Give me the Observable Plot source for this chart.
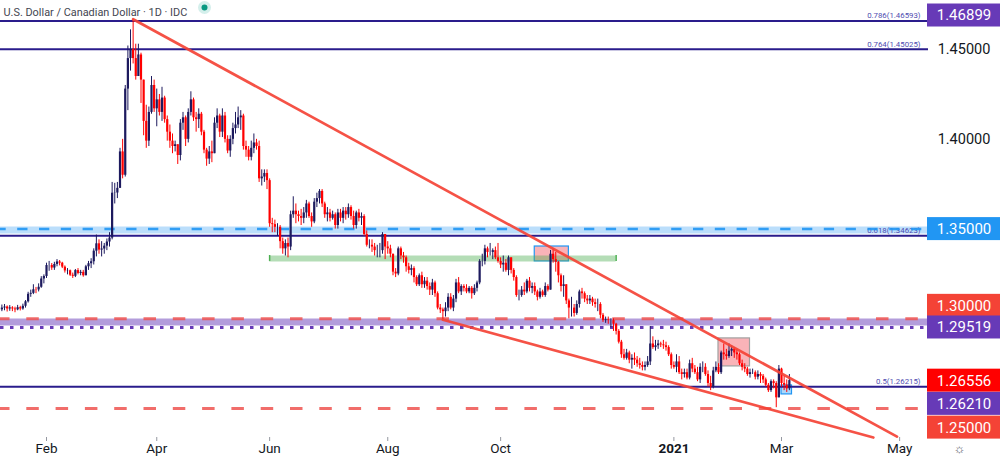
<!DOCTYPE html>
<html><head><meta charset="utf-8">
<script src="https://cdn.jsdelivr.net/npm/d3@7"></script>
<script src="https://cdn.jsdelivr.net/npm/@observablehq/plot@0.6"></script>
<style>body{margin:0;background:#fff}#chart{width:1000px;height:466px}</style>
</head><body><div id="chart"></div>
<script>
// ---------- data ----------
const titleText = "U.S. Dollar / Canadian Dollar · 1D · IDC";
const startDate = "2020-01-09";      // first daily bar (weekdays only)
const firstOpen = 1.3050;
const closePrice = [
1.3060,1.3066,1.3055,1.3061,1.3055,1.3050,1.3062,1.3055,1.3070,1.3095,1.3137,1.3142,1.3162,1.3161,1.3176,1.3222,1.3236,
1.3297,1.3297,1.3283,1.3303,1.3317,1.3310,1.3288,1.3267,1.3268,1.3243,1.3237,1.3269,1.3253,1.3259,1.3240,1.3290,1.3307,1.3318,1.3377,1.3418,
1.3383,1.3389,1.3405,1.3428,1.3450,1.3700,1.3701,1.3727,1.3930,1.3800,1.4280,1.4450,1.4500,1.4450,1.4350,1.4470,1.4330,1.4100,1.3990,1.4150,1.4300,1.4170,
1.4220,1.4150,1.4230,1.4110,1.4040,1.3990,1.3960,1.3970,1.3910,1.4090,1.4120,1.4000,1.4150,1.4220,1.4120,1.4110,1.4140,1.4040,1.3940,1.3890,1.3930,1.3920,
1.4090,1.4130,1.4040,1.4130,1.4000,1.3935,1.4000,1.4060,1.4080,1.4120,1.4130,1.3960,1.3940,1.3900,1.3950,1.3980,1.3960,1.3780,1.3790,1.3810,1.3770,
1.3530,1.3525,1.3510,1.3510,1.3430,1.3390,1.3420,1.3400,1.3580,1.3600,1.3580,1.3570,1.3560,1.3590,1.3640,1.3570,1.3540,1.3650,1.3670,1.3710,1.3640,1.3580,
1.3590,1.3560,1.3580,1.3520,1.3590,1.3560,1.3600,1.3580,1.3620,1.3570,1.3520,1.3590,1.3560,1.3570,1.3470,1.3410,1.3410,1.3400,1.3380,1.3380,1.3380,1.3470,1.3400,
1.3390,1.3360,1.3260,1.3250,1.3390,1.3350,1.3340,1.3290,1.3270,1.3280,1.3230,1.3190,1.3240,1.3190,1.3210,1.3180,1.3160,1.3200,1.3140,1.3060,1.3050,
1.3040,1.3060,1.3120,1.3060,1.3110,1.3200,1.3150,1.3180,1.3170,1.3150,1.3170,1.3140,1.3170,1.3200,1.3320,1.3320,1.3390,1.3370,1.3370,1.3380,1.3340,1.3320,
1.3300,1.3310,1.3270,1.3340,1.3270,1.3230,1.3130,1.3130,1.3160,1.3150,1.3210,1.3170,1.3180,1.3150,1.3120,1.3150,1.3130,1.3180,1.3160,1.3360,1.3330,1.3315,
1.3240,1.3180,1.3190,1.3100,1.3060,1.3060,1.3030,1.3080,1.3150,1.3140,1.3110,1.3100,1.3110,1.3090,1.3080,1.3080,1.3020,1.2990,1.2995,1.2990,1.2990,
1.2970,1.2930,1.2870,1.2800,1.2780,1.2810,1.2770,1.2780,1.2770,1.2750,1.2740,1.2730,1.2740,1.2760,1.2860,1.2840,1.2850,1.2860,1.2855,1.2850,1.2840,1.2800,1.2740,
1.2730,1.2760,1.2700,1.2690,1.2700,1.2670,1.2750,1.2720,1.2700,1.2660,1.2730,1.2730,1.2690,1.2640,1.2620,1.2710,1.2730,1.2700,1.2810,1.2800,1.2790,
1.2820,1.2830,1.2810,1.2800,1.2750,1.2730,1.2720,1.2690,1.2700,1.2700,1.2675,1.2690,1.2680,1.2660,1.2630,1.2600,1.2650,1.2640,1.2560,1.2720,
1.2640,1.2630,1.2610,1.2656];
const highPrice = [
1.3077,1.3080,1.3072,1.3074,1.3068,1.3065,1.3075,1.3070,1.3082,1.3102,1.3148,1.3160,1.3190,1.3175,1.3195,1.3235,1.3245,
1.3310,1.3320,1.3308,1.3315,1.3330,1.3325,1.3315,1.3295,1.3280,1.3272,1.3255,1.3275,1.3280,1.3270,1.3270,1.3298,1.3320,1.3335,1.3390,1.3467,
1.3440,1.3430,1.3420,1.3445,1.3480,1.3760,1.3755,1.3760,1.3950,1.4000,1.4300,1.4520,1.4610,1.4667,1.4530,1.4530,1.4480,1.4260,1.4190,1.4180,1.4350,1.4330,
1.4280,1.4250,1.4290,1.4240,1.4130,1.4080,1.4030,1.3990,1.3960,1.4110,1.4150,1.4130,1.4170,1.4265,1.4230,1.4150,1.4170,1.4150,1.4050,1.3950,1.3960,1.3990,
1.4120,1.4170,1.4140,1.4170,1.4150,1.4020,1.4020,1.4090,1.4150,1.4180,1.4160,1.4140,1.3990,1.3960,1.3990,1.4030,1.4000,1.3990,1.3830,1.3830,1.3830,
1.3780,1.3560,1.3550,1.3530,1.3520,1.3450,1.3440,1.3450,1.3600,1.3680,1.3640,1.3600,1.3610,1.3620,1.3660,1.3650,1.3590,1.3670,1.3700,1.3720,1.3720,1.3650,
1.3620,1.3610,1.3600,1.3590,1.3610,1.3610,1.3620,1.3620,1.3640,1.3630,1.3600,1.3600,1.3610,1.3590,1.3580,1.3490,1.3440,1.3440,1.3420,1.3410,1.3420,1.3480,1.3460,
1.3430,1.3410,1.3360,1.3280,1.3400,1.3400,1.3370,1.3350,1.3310,1.3300,1.3290,1.3240,1.3250,1.3260,1.3230,1.3230,1.3200,1.3220,1.3210,1.3150,1.3080,
1.3060,1.3090,1.3140,1.3140,1.3130,1.3220,1.3230,1.3190,1.3190,1.3190,1.3180,1.3180,1.3190,1.3210,1.3330,1.3360,1.3410,1.3400,1.3420,1.3390,1.3400,1.3420,
1.3340,1.3350,1.3330,1.3350,1.3340,1.3280,1.3240,1.3160,1.3180,1.3200,1.3220,1.3230,1.3200,1.3200,1.3160,1.3170,1.3160,1.3200,1.3190,1.3381,1.3390,1.3370,
1.3320,1.3250,1.3240,1.3190,1.3110,1.3120,1.3080,1.3100,1.3160,1.3170,1.3150,1.3130,1.3130,1.3120,1.3110,1.3110,1.3090,1.3030,1.3010,1.3010,1.3000,
1.3000,1.2975,1.2940,1.2880,1.2830,1.2830,1.2820,1.2800,1.2810,1.2790,1.2780,1.2760,1.2760,1.2790,1.2957,1.2900,1.2880,1.2880,1.2870,1.2880,1.2870,1.2850,1.2810,
1.2760,1.2800,1.2790,1.2720,1.2720,1.2720,1.2770,1.2780,1.2740,1.2730,1.2750,1.2760,1.2750,1.2710,1.2680,1.2730,1.2760,1.2750,1.2820,1.2860,1.2830,
1.2860,1.2850,1.2840,1.2830,1.2810,1.2770,1.2750,1.2730,1.2720,1.2720,1.2710,1.2710,1.2700,1.2690,1.2670,1.2640,1.2660,1.2660,1.2650,1.2740,
1.2725,1.2680,1.2660,1.2690];
const lowPrice = [
1.3040,1.3045,1.3038,1.3042,1.3040,1.3034,1.3045,1.3044,1.3048,1.3060,1.3088,1.3120,1.3135,1.3140,1.3150,1.3170,1.3195,
1.3225,1.3265,1.3270,1.3270,1.3290,1.3295,1.3280,1.3255,1.3245,1.3236,1.3225,1.3230,1.3245,1.3240,1.3232,1.3240,1.3270,1.3280,1.3300,1.3345,
1.3360,1.3345,1.3360,1.3380,1.3400,1.3440,1.3640,1.3670,1.3730,1.3780,1.3790,1.4160,1.4380,1.4420,1.4330,1.4360,1.4200,1.4020,1.3950,1.3960,1.4140,1.4150,
1.4070,1.4130,1.4100,1.4090,1.3990,1.3950,1.3920,1.3930,1.3860,1.3880,1.4050,1.3960,1.3980,1.4130,1.4100,1.4040,1.4060,1.4020,1.3920,1.3850,1.3860,1.3870,
1.3920,1.4060,1.4010,1.4010,1.3980,1.3920,1.3900,1.3970,1.4030,1.4060,1.4050,1.3940,1.3900,1.3880,1.3880,1.3920,1.3940,1.3760,1.3740,1.3760,1.3720,
1.3510,1.3480,1.3480,1.3460,1.3390,1.3360,1.3350,1.3340,1.3380,1.3560,1.3530,1.3540,1.3520,1.3530,1.3560,1.3560,1.3510,1.3530,1.3620,1.3640,1.3620,1.3560,
1.3540,1.3540,1.3550,1.3500,1.3500,1.3540,1.3530,1.3550,1.3560,1.3550,1.3500,1.3500,1.3540,1.3520,1.3460,1.3400,1.3390,1.3370,1.3350,1.3340,1.3340,1.3360,1.3330,
1.3360,1.3340,1.3240,1.3230,1.3240,1.3330,1.3310,1.3260,1.3250,1.3240,1.3200,1.3180,1.3180,1.3170,1.3170,1.3160,1.3130,1.3130,1.3120,1.3050,1.3030,
1.2994,1.3010,1.3040,1.3050,1.3040,1.3090,1.3140,1.3130,1.3150,1.3140,1.3140,1.3110,1.3130,1.3150,1.3190,1.3290,1.3300,1.3340,1.3350,1.3330,1.3330,1.3310,
1.3280,1.3260,1.3260,1.3240,1.3250,1.3210,1.3120,1.3100,1.3120,1.3130,1.3140,1.3150,1.3140,1.3130,1.3100,1.3110,1.3120,1.3120,1.3150,1.3165,1.3310,1.3260,
1.3200,1.3150,1.3120,1.3080,1.3000,1.3010,1.3010,1.3020,1.3060,1.3110,1.3090,1.3080,1.3080,1.3070,1.3060,1.3040,1.3000,1.2980,1.2975,1.2970,1.2950,
1.2930,1.2910,1.2860,1.2780,1.2770,1.2770,1.2750,1.2720,1.2740,1.2730,1.2720,1.2710,1.2710,1.2730,1.2740,1.2830,1.2820,1.2830,1.2840,1.2830,1.2820,1.2790,1.2720,
1.2720,1.2700,1.2690,1.2660,1.2670,1.2660,1.2660,1.2700,1.2690,1.2650,1.2640,1.2700,1.2680,1.2620,1.2600,1.2610,1.2700,1.2690,1.2690,1.2770,1.2770,
1.2780,1.2790,1.2780,1.2770,1.2740,1.2710,1.2700,1.2680,1.2670,1.2690,1.2660,1.2660,1.2640,1.2640,1.2620,1.2590,1.2590,1.2610,1.2505,1.2560,
1.2620,1.2600,1.2590,1.2600];

// time-axis labels (first trading day of the month)
const monthLabels = ["Feb","Apr","Jun","Aug","Oct","2021","Mar","May"];
const monthDates  = ["2020-02-03","2020-04-01","2020-06-01","2020-08-03","2020-10-01","2021-01-01","2021-03-01","2021-05-03"];
const boldLabels  = ["2021"];

// Fibonacci retracement levels
const fibRatio = [0.786, 0.764, 0.618, 0.5];
const fibValue = [1.46593, 1.45025, 1.34623, 1.26215];

// horizontal price levels
const blueLevel = 1.35, redLevels = [1.30, 1.25], purpleLevel = 1.29519;
const blueZone = [1.3476, 1.3515], purpleZone = [1.2963, 1.3002];
const greenZone = {from: "2020-06-01", to: "2020-12-02", lo: 1.3320, hi: 1.3353};

// trend lines [date, price]
const upperTrend = [["2020-03-19", 1.4669], ["2021-04-30", 1.2344]];
const lowerTrend = [["2020-09-01", 1.2995], ["2021-04-19", 1.2339]];

// highlight boxes
const boxes = [
  {from: "2020-10-20", to: "2020-11-06", lo: 1.3320, hi: 1.3403, kind: "redBlue"},
  {from: "2021-01-26", to: "2021-02-11", lo: 1.2735, hi: 1.2891, kind: "redGrey"},
  {from: "2021-03-01", to: "2021-03-05", lo: 1.2579, hi: 1.2629, kind: "blue"}
];

// right price-scale labels
const axisTicks = [1.45, 1.40];
const tagValues = [1.46899, 1.35, 1.30, 1.29519, 1.26556, 1.2621, 1.25];
const tagColors = ["#673ab7", "#2196f3", "#f44336", "#673ab7", "#ff0000", "#673ab7", "#f44336"];
const tagShift  = [0, 0, -13, 0, 0, 17, 19]; // label collision offsets (px)

// ---------- build ----------
const parse = d3.utcParse("%Y-%m-%d");
const start = parse(startDate);
const isWeekday = d => d.getUTCDay() !== 0 && d.getUTCDay() !== 6;
const idxOf = s => d3.utcDays(start, parse(s)).filter(isWeekday).length;

const candles = closePrice.map((c, i) => {
  const o = i ? closePrice[i - 1] : firstOpen;
  return {i, open: o, close: c, high: Math.max(highPrice[i], o, c), low: Math.min(lowPrice[i], o, c)};
});
const UP = "#1d1a5e", DOWN = "#ff0000";
const col = d => d.close >= d.open ? UP : DOWN;

const ticks = monthLabels.map((label, k) => ({label, i: idxOf(monthDates[k]), bold: boldLabels.includes(label)}));
const fibs = fibRatio.map((r, k) => ({ratio: r, value: fibValue[k]}));
const trendU = upperTrend.map(([d, p]) => ({i: idxOf(d), p}));
const trendL = lowerTrend.map(([d, p]) => ({i: idxOf(d), p}));
const boxData = boxes.map(b => ({...b, x1: idxOf(b.from), x2: idxOf(b.to)}));
const boxFill = {redBlue: "#f23645", redGrey: "#f23645", blue: "#2196f3"};
const boxStroke = {redBlue: "#2196f3", redGrey: "#a0a0a0", blue: "#2196f3"};
const FONT = "Roboto, 'Liberation Sans', sans-serif";

const chart = Plot.plot({
  width: 1000, height: 466,
  marginLeft: 0, marginRight: 72, marginTop: 0, marginBottom: 29,
  x: {type: "linear", domain: [-0.524, 353.0], axis: null},
  y: {type: "linear", domain: [1.2339, 1.47735], axis: null},
  color: {type: "identity"},
  style: {fontFamily: FONT, background: "#ffffff", overflow: "visible"},
  marks: [
    // zones
    Plot.ruleY([d3.mean(blueZone)], {y: d => d, stroke: "#bbdefb", strokeWidth: 7}),
    Plot.ruleY([d3.mean(purpleZone)], {y: d => d, stroke: "#b39ddb", strokeWidth: 7}),
    Plot.rect(boxData, {x1: "x1", x2: "x2", y1: "lo", y2: "hi",
      fill: d => boxFill[d.kind], fillOpacity: 0.38, stroke: d => boxStroke[d.kind], strokeWidth: 1.2}),
    Plot.ruleY([greenZone], {y: d => (d.lo + d.hi) / 2, x1: d => idxOf(d.from), x2: d => idxOf(d.to),
      stroke: "#4caf50", strokeOpacity: 0.42, strokeWidth: 6}),
    Plot.ruleX([greenZone.from, greenZone.to], {x: d => idxOf(d), y1: greenZone.lo, y2: greenZone.hi, stroke: "#4caf50", strokeWidth: 1.5}),
    // fib lines
    Plot.ruleY(fibs, {y: "value", stroke: "#2a1c8c", strokeWidth: 2}),
    Plot.text(fibs, {y: "value", text: d => `${d.ratio}(${d.value.toFixed(5)})`, frameAnchor: "right",
      textAnchor: "end", dx: -8, dy: -5, fontSize: 7.8, fill: "#4f4cb0"}),
    // dashed levels
    Plot.ruleY([blueLevel], {stroke: "#2196f3", strokeOpacity: 0.9, strokeWidth: 2.5, strokeDasharray: "10.3,11.5", strokeDashoffset: 4.6}),
    Plot.ruleY(redLevels, {stroke: "#ef5350", strokeOpacity: 0.85, strokeWidth: 3, strokeDasharray: "12.5,16.8", strokeDashoffset: 3}),
    Plot.ruleY([purpleLevel], {stroke: "#673ab7", strokeWidth: 3, strokeDasharray: "3.5,6.5", strokeDashoffset: 0}),
    // candles
    Plot.ruleX(candles, {x: "i", y1: "low", y2: "high", stroke: col, strokeWidth: 1}),
    Plot.ruleX(candles, {x: "i", y1: "open", y2: "close", stroke: col, strokeWidth: 2.2}),
    // trend lines
    Plot.line(trendU, {x: "i", y: "p", stroke: "#f44336", strokeWidth: 2.7, strokeOpacity: 0.92}),
    Plot.line(trendL, {x: "i", y: "p", stroke: "#f44336", strokeWidth: 2.7, strokeOpacity: 0.92}),
    // time axis
    Plot.axisX(ticks.map(d => d.i), {anchor: "bottom", tickSize: 4, tickFormat: () => "", stroke: "#9598a1"}),
    Plot.text(ticks.filter(d => !d.bold), {x: "i", text: "label", frameAnchor: "bottom", dy: 15, fontSize: 13.5, fill: "#131722"}),
    Plot.text(ticks.filter(d => d.bold), {x: "i", text: "label", frameAnchor: "bottom", dy: 15, fontSize: 13.5, fontWeight: "bold", fill: "#131722"}),
    // title + status dot + settings glyph
    Plot.text([titleText], {frameAnchor: "top-left", dx: 3, dy: 8, textAnchor: "start", fontSize: 10.9, fill: "#434651"}),
    Plot.dot([0], {frameAnchor: "top-left", dx: 204, dy: 7, r: 6.5, fill: "#d4efeb"}),
    Plot.dot([0], {frameAnchor: "top-left", dx: 204, dy: 7, r: 3, fill: "#089981"}),
    Plot.text(["☼"], {frameAnchor: "bottom-right", dx: 37, dy: 15, fontSize: 13, fill: "#6a6d78"})
  ]
});

// right price scale: plain ticks and coloured tags, positioned with the plot's own y scale
const ys = chart.scale("y");
const g = d3.select(chart).append("g").attr("font-family", FONT);
axisTicks.forEach(v => {
  g.append("text").attr("x", 964).attr("y", ys.apply(v)).attr("dy", "0.36em").attr("text-anchor", "middle")
    .attr("font-size", 14.5).attr("fill", "#131722").text(v.toFixed(5));
});
tagValues.forEach((v, k) => {
  const cy = ys.apply(v) + tagShift[k];
  g.append("rect").attr("x", 927).attr("y", cy - 11.5).attr("width", 73).attr("height", 23).attr("fill", tagColors[k]);
  g.append("text").attr("x", 964).attr("y", cy).attr("dy", "0.36em").attr("text-anchor", "middle")
    .attr("font-size", 15).attr("fill", "#ffffff").text(v.toFixed(5));
});
document.getElementById("chart").appendChild(chart);
</script>
</body></html>
